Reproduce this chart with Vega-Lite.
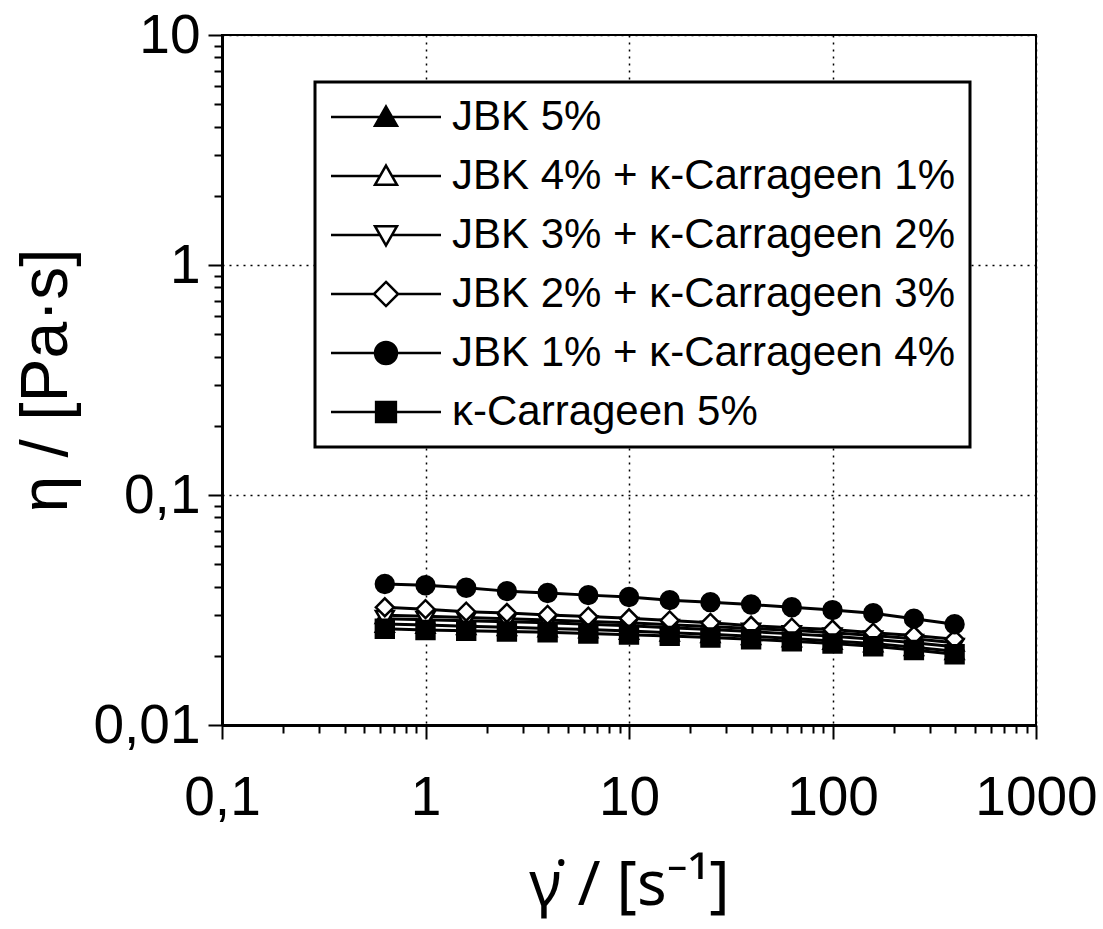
{
  "$schema": "https://vega.github.io/schema/vega-lite/v6.json",
  "autosize": {"type": "none"},
  "padding": {"left": 222, "top": 35, "right": 67, "bottom": 204},
  "width": 814,
  "height": 690,
  "background": "white",
  "config": {
    "view": {"stroke": "black", "strokeWidth": 2},
    "font": "Liberation Sans"
  },
  "data": {
    "values": [
      {"x": 0.631, "JBK 5%": 0.0275, "JBK 4% + κ-Carrageen 1%": 0.0300, "JBK 3% + κ-Carrageen 2%": 0.0290, "JBK 2% + κ-Carrageen 3%": 0.0325, "JBK 1% + κ-Carrageen 4%": 0.0410, "κ-Carrageen 5%": 0.0262},
      {"x": 1, "JBK 5%": 0.0272, "JBK 4% + κ-Carrageen 1%": 0.0297, "JBK 3% + κ-Carrageen 2%": 0.0287, "JBK 2% + κ-Carrageen 3%": 0.0319, "JBK 1% + κ-Carrageen 4%": 0.0405, "κ-Carrageen 5%": 0.0259},
      {"x": 1.585, "JBK 5%": 0.0269, "JBK 4% + κ-Carrageen 1%": 0.0293, "JBK 3% + κ-Carrageen 2%": 0.0284, "JBK 2% + κ-Carrageen 3%": 0.0311, "JBK 1% + κ-Carrageen 4%": 0.0395, "κ-Carrageen 5%": 0.0257},
      {"x": 2.512, "JBK 5%": 0.0266, "JBK 4% + κ-Carrageen 1%": 0.0290, "JBK 3% + κ-Carrageen 2%": 0.0281, "JBK 2% + κ-Carrageen 3%": 0.0307, "JBK 1% + κ-Carrageen 4%": 0.0382, "κ-Carrageen 5%": 0.0255},
      {"x": 3.981, "JBK 5%": 0.0263, "JBK 4% + κ-Carrageen 1%": 0.0286, "JBK 3% + κ-Carrageen 2%": 0.0278, "JBK 2% + κ-Carrageen 3%": 0.0301, "JBK 1% + κ-Carrageen 4%": 0.0375, "κ-Carrageen 5%": 0.0253},
      {"x": 6.31, "JBK 5%": 0.0260, "JBK 4% + κ-Carrageen 1%": 0.0282, "JBK 3% + κ-Carrageen 2%": 0.0274, "JBK 2% + κ-Carrageen 3%": 0.0296, "JBK 1% + κ-Carrageen 4%": 0.0367, "κ-Carrageen 5%": 0.0250},
      {"x": 10, "JBK 5%": 0.0256, "JBK 4% + κ-Carrageen 1%": 0.0278, "JBK 3% + κ-Carrageen 2%": 0.0270, "JBK 2% + κ-Carrageen 3%": 0.0291, "JBK 1% + κ-Carrageen 4%": 0.0360, "κ-Carrageen 5%": 0.0247},
      {"x": 15.85, "JBK 5%": 0.0252, "JBK 4% + κ-Carrageen 1%": 0.0273, "JBK 3% + κ-Carrageen 2%": 0.0265, "JBK 2% + κ-Carrageen 3%": 0.0285, "JBK 1% + κ-Carrageen 4%": 0.0349, "κ-Carrageen 5%": 0.0244},
      {"x": 25.12, "JBK 5%": 0.0248, "JBK 4% + κ-Carrageen 1%": 0.0268, "JBK 3% + κ-Carrageen 2%": 0.0260, "JBK 2% + κ-Carrageen 3%": 0.0278, "JBK 1% + κ-Carrageen 4%": 0.0342, "κ-Carrageen 5%": 0.0240},
      {"x": 39.81, "JBK 5%": 0.0243, "JBK 4% + κ-Carrageen 1%": 0.0263, "JBK 3% + κ-Carrageen 2%": 0.0255, "JBK 2% + κ-Carrageen 3%": 0.0270, "JBK 1% + κ-Carrageen 4%": 0.0334, "κ-Carrageen 5%": 0.0236},
      {"x": 63.1, "JBK 5%": 0.0238, "JBK 4% + κ-Carrageen 1%": 0.0258, "JBK 3% + κ-Carrageen 2%": 0.0249, "JBK 2% + κ-Carrageen 3%": 0.0265, "JBK 1% + κ-Carrageen 4%": 0.0325, "κ-Carrageen 5%": 0.0231},
      {"x": 100, "JBK 5%": 0.0232, "JBK 4% + κ-Carrageen 1%": 0.0252, "JBK 3% + κ-Carrageen 2%": 0.0243, "JBK 2% + κ-Carrageen 3%": 0.0260, "JBK 1% + κ-Carrageen 4%": 0.0316, "κ-Carrageen 5%": 0.0226},
      {"x": 158.5, "JBK 5%": 0.0226, "JBK 4% + κ-Carrageen 1%": 0.0245, "JBK 3% + κ-Carrageen 2%": 0.0236, "JBK 2% + κ-Carrageen 3%": 0.0252, "JBK 1% + κ-Carrageen 4%": 0.0306, "κ-Carrageen 5%": 0.0220},
      {"x": 251.2, "JBK 5%": 0.0218, "JBK 4% + κ-Carrageen 1%": 0.0237, "JBK 3% + κ-Carrageen 2%": 0.0228, "JBK 2% + κ-Carrageen 3%": 0.0245, "JBK 1% + κ-Carrageen 4%": 0.0290, "κ-Carrageen 5%": 0.0212},
      {"x": 398.1, "JBK 5%": 0.0209, "JBK 4% + κ-Carrageen 1%": 0.0228, "JBK 3% + κ-Carrageen 2%": 0.0219, "JBK 2% + κ-Carrageen 3%": 0.0236, "JBK 1% + κ-Carrageen 4%": 0.0274, "κ-Carrageen 5%": 0.0203}
    ]
  },
  "transform": [
    {"fold": ["JBK 5%", "JBK 4% + κ-Carrageen 1%", "JBK 3% + κ-Carrageen 2%", "JBK 2% + κ-Carrageen 3%", "JBK 1% + κ-Carrageen 4%", "κ-Carrageen 5%"], "as": ["series", "eta"]}
  ],
  "encoding": {
    "x": {
      "field": "x", "type": "quantitative",
      "scale": {"type": "log", "domain": [0.1, 1000], "nice": false},
      "axis": {
        "title": "γ̇ / [s⁻¹]",
        "titleFont": "Noto Sans", "titleFontSize": 62, "titleFontWeight": "normal", "titleColor": "black", "titlePadding": 30,
        "values": [0.1,0.2,0.3,0.4,0.5,0.6,0.7,0.8,0.9,1,2,3,4,5,6,7,8,9,10,20,30,40,50,60,70,80,90,100,200,300,400,500,600,700,800,900,1000],
        "labelExpr": "abs(log(datum.value)/LN10 - round(log(datum.value)/LN10)) < 0.001 ? replace(format(datum.value, '~g'), '.', ',') : ''",
        "labelFont": "Liberation Sans", "labelFontSize": 55, "labelColor": "black", "labelPadding": 32, "labelFlush": false, "labelOverlap": false,
        "domainColor": "black", "domainWidth": 3,
        "tickColor": "black", "tickWidth": 2,
        "tickSize": {"condition": {"test": "abs(log(datum.value)/LN10 - round(log(datum.value)/LN10)) < 0.001", "value": 14}, "value": 8},
        "grid": true, "gridColor": "black", "gridWidth": 1.5, "gridDash": [2, 5],
        "gridOpacity": {"condition": {"test": "abs(log(datum.value)/LN10 - round(log(datum.value)/LN10)) < 0.001", "value": 1}, "value": 0}
      }
    },
    "y": {
      "field": "eta", "type": "quantitative",
      "scale": {"type": "log", "domain": [0.01, 10], "nice": false},
      "axis": {
        "title": "η / [Pa·s]",
        "titleFont": "Liberation Sans", "titleFontSize": 66, "titleFontWeight": "normal", "titleColor": "black", "titlePadding": 12,
        "values": [0.01,0.02,0.03,0.04,0.05,0.06,0.07,0.08,0.09,0.1,0.2,0.3,0.4,0.5,0.6,0.7,0.8,0.9,1,2,3,4,5,6,7,8,9,10],
        "labelExpr": "abs(log(datum.value)/LN10 - round(log(datum.value)/LN10)) < 0.001 ? replace(format(datum.value, '~g'), '.', ',') : ''",
        "labelFont": "Liberation Sans", "labelFontSize": 55, "labelColor": "black", "labelPadding": 8, "labelFlush": false, "labelOverlap": false,
        "domainColor": "black", "domainWidth": 3,
        "tickColor": "black", "tickWidth": 2,
        "tickSize": {"condition": {"test": "abs(log(datum.value)/LN10 - round(log(datum.value)/LN10)) < 0.001", "value": 14}, "value": 8},
        "grid": true, "gridColor": "black", "gridWidth": 1.5, "gridDash": [2, 5],
        "gridOpacity": {"condition": {"test": "abs(log(datum.value)/LN10 - round(log(datum.value)/LN10)) < 0.001", "value": 1}, "value": 0}
      }
    }
  },
  "resolve": {"scale": {"shape": "independent", "fill": "independent"}},
  "layer": [
    {
      "mark": {"type": "line", "color": "black", "strokeWidth": 3},
      "encoding": {"detail": {"field": "series"}}
    },
    {
      "mark": {"type": "point", "filled": true, "stroke": "black", "strokeWidth": 2.5, "size": 320, "opacity": 1},
      "encoding": {
        "shape": {
          "field": "series", "type": "nominal", "legend": null,
          "scale": {
            "domain": ["JBK 5%", "JBK 4% + κ-Carrageen 1%", "JBK 3% + κ-Carrageen 2%", "JBK 2% + κ-Carrageen 3%", "JBK 1% + κ-Carrageen 4%", "κ-Carrageen 5%"],
            "range": ["triangle-up", "triangle-up", "triangle-down", "diamond", "circle", "square"]
          }
        },
        "fill": {
          "field": "series", "type": "nominal", "legend": null,
          "scale": {
            "domain": ["JBK 5%", "JBK 4% + κ-Carrageen 1%", "JBK 3% + κ-Carrageen 2%", "JBK 2% + κ-Carrageen 3%", "JBK 1% + κ-Carrageen 4%", "κ-Carrageen 5%"],
            "range": ["black", "white", "white", "white", "black", "black"]
          }
        }
      }
    },
    {
      "mark": {"type": "point", "filled": true, "stroke": "black", "strokeWidth": 2, "size": 300, "opacity": 0},
      "encoding": {
        "shape": {
          "field": "series", "type": "nominal",
          "scale": {
            "domain": ["JBK 5%", "JBK 4% + κ-Carrageen 1%", "JBK 3% + κ-Carrageen 2%", "JBK 2% + κ-Carrageen 3%", "JBK 1% + κ-Carrageen 4%", "κ-Carrageen 5%"],
            "range": [
              "M0,-0.95L1,0.8L-1,0.8Z M-5,0H-0.54 M0.54,0H5",
              "M0,-0.95L1,0.8L-1,0.8Z M-5,0H-0.54 M0.54,0H5",
              "M0,0.95L1,-0.8L-1,-0.8Z M-5,0H-0.54 M0.54,0H5",
              "M0,-1.1L1.1,0L0,1.1L-1.1,0Z M-5,0H-1.1 M1.1,0H5",
              "M1,0A1,1 0 1,1 -1,0A1,1 0 1,1 1,0Z M-5,0H-1 M1,0H5",
              "M-0.9,-0.9H0.9V0.9H-0.9Z M-5,0H-0.9 M0.9,0H5"
            ]
          },
          "legend": {
            "title": null,
            "orient": "none", "legendX": 93, "legendY": 47,
            "fillColor": "white", "strokeColor": "black",
            "padding": 14,
            "symbolSize": 484, "symbolStrokeColor": "black", "symbolStrokeWidth": 2.5, "symbolOpacity": 1,
            "symbolOffset": 36, "labelOffset": 45,
            "labelFont": "Liberation Sans", "labelFontSize": 42, "labelColor": "black", "labelLimit": 1000,
            "rowPadding": 17,
            "encoding": {
              "legend": {"strokeWidth": {"value": 3}},
              "symbols": {"stroke": {"value": "black"}, "strokeWidth": {"value": 2.5}, "opacity": {"value": 1}}
            }
          }
        },
        "fill": {
          "field": "series", "type": "nominal",
          "scale": {
            "domain": ["JBK 5%", "JBK 4% + κ-Carrageen 1%", "JBK 3% + κ-Carrageen 2%", "JBK 2% + κ-Carrageen 3%", "JBK 1% + κ-Carrageen 4%", "κ-Carrageen 5%"],
            "range": ["black", "white", "white", "white", "black", "black"]
          },
          "legend": {
            "title": null,
            "orient": "none", "legendX": 93, "legendY": 47,
            "fillColor": "white", "strokeColor": "black",
            "padding": 14,
            "symbolSize": 484, "symbolStrokeColor": "black", "symbolStrokeWidth": 2.5, "symbolOpacity": 1,
            "symbolOffset": 36, "labelOffset": 45,
            "labelFont": "Liberation Sans", "labelFontSize": 42, "labelColor": "black", "labelLimit": 1000,
            "rowPadding": 17,
            "encoding": {
              "legend": {"strokeWidth": {"value": 3}},
              "symbols": {"stroke": {"value": "black"}, "strokeWidth": {"value": 2.5}, "opacity": {"value": 1}}
            }
          }
        }
      }
    }
  ]
}
